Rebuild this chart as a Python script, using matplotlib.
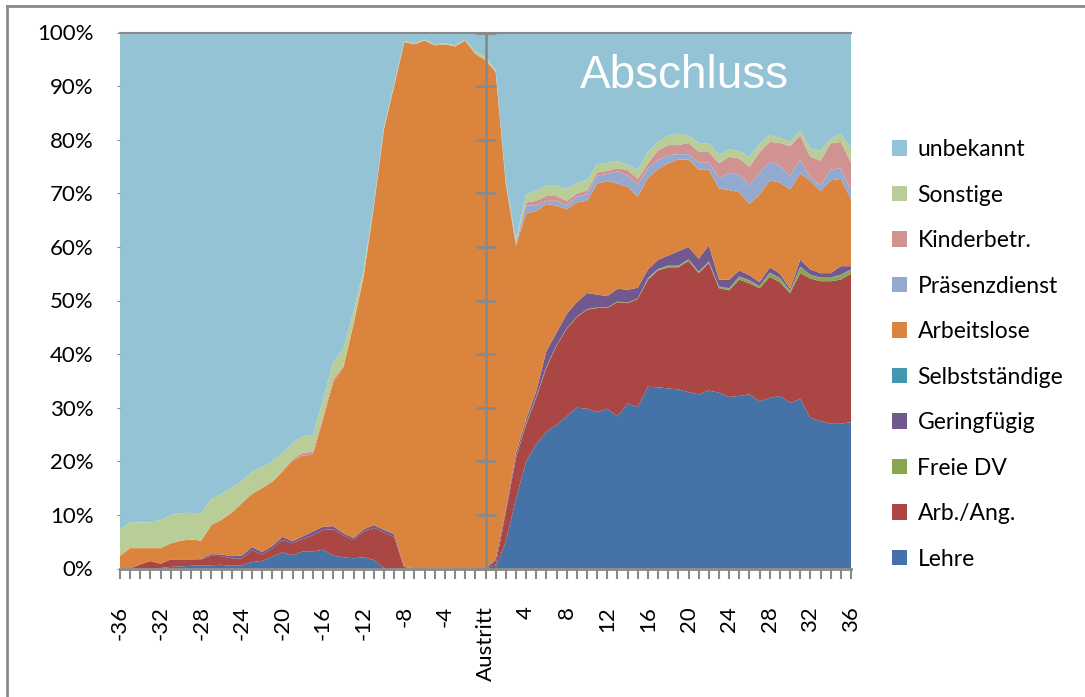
import numpy as np
import matplotlib
matplotlib.use("Agg")
import matplotlib.pyplot as plt
from matplotlib.lines import Line2D

# months relative to leaving (Austritt = 0)
months = list(range(-36, 37))

# shares in % per month (left part: -36..-1, then 0..36)
lehre = [0, 0, 0, 0, 0.1, 0.3, 0.4, 0.5, 0.6, 0.6, 0.7, 0.5, 0.6, 1.2, 1.4, 2.2, 3.0, 2.5,
         3.2, 3.2, 3.5, 2.4, 2.1, 1.9, 2.1, 1.6, 0.1, 0, 0, 0, 0, 0, 0, 0, 0, 0,
         0, 0.1, 5.0, 13.0, 20.0, 23.2, 25.5, 26.8, 28.4, 30.0, 29.8, 29.2, 29.8, 28.4, 30.8,
         30.1, 33.9, 33.8, 33.6, 33.4, 32.9, 32.5, 33.2, 32.8, 32.0, 32.2, 32.5, 31.2, 31.8,
         32.2, 30.9, 31.6, 28.1, 27.5, 27.0, 27.0, 27.3]
arb_ang = [0, 0, 0.8, 1.4, 0.8, 1.4, 1.3, 1.2, 1.1, 1.8, 1.6, 1.4, 1.3, 2.2, 1.2, 1.5, 2.3, 2.2,
           2.3, 3.0, 3.7, 4.9, 4.1, 3.4, 4.8, 6.0, 6.6, 5.9, 0.1, 0, 0, 0, 0, 0, 0, 0,
           0, 0.5, 5.5, 7.6, 6.9, 8.7, 12.0, 14.8, 16.3, 16.9, 18.5, 19.4, 18.8, 21.3, 18.7,
           20.2, 20.0, 21.8, 22.6, 22.8, 24.5, 22.6, 23.8, 19.5, 19.9, 21.7, 20.7, 21.1, 22.6,
           21.2, 20.5, 23.5, 26.0, 26.1, 26.6, 26.9, 27.7]
freie_dv = [0] * 36 + [0, 0, 0, 0.1, 0.2, 0.2, 0.2, 0.1, 0.1, 0.1, 0.1, 0.1, 0.1, 0.1, 0.1,
                       0.1, 0.2, 0.2, 0.2, 0.2, 0.2, 0.2, 0.2, 0.2, 0.3, 0.5, 0.5, 0.3, 0.7,
                       0.7, 0.3, 1.1, 0.6, 0.6, 0.6, 0.8, 0.7]
selbst = [0] * 36 + [0] * 16 + [0.1] * 21
geringf = [0, 0, 0, 0, 0, 0, 0, 0, 0.1, 0.3, 0.3, 0.4, 0.5, 0.6, 0.5, 0.5, 0.6, 0.4,
           0.5, 0.7, 0.6, 0.6, 0.4, 0.4, 0.4, 0.5, 0.5, 0.5, 0.2, 0, 0, 0, 0, 0, 0, 0,
           0, 1.0, 0.5, 0.8, 0.7, 1.0, 2.9, 2.3, 2.7, 2.7, 3.0, 2.4, 2.1, 2.4, 2.4,
           2.0, 1.6, 1.7, 1.9, 2.7, 2.3, 2.4, 3.0, 1.3, 1.6, 1.1, 0.9, 0.7, 1.0,
           0.8, 0.4, 1.3, 1.0, 0.8, 0.8, 1.6, 0.6]
arbeitslos = [2.4, 3.8, 3.0, 2.4, 2.9, 3.0, 3.5, 3.7, 3.4, 5.4, 6.5, 8.1, 9.8, 9.9, 11.9, 12.0,
              12.2, 15.0, 15.1, 14.3, 20.1, 26.8, 30.9, 39.8, 47.2, 59.4, 74.8, 83.6, 97.9,
              97.8, 98.5, 97.6, 97.8, 97.4, 98.5, 96.0,
              94.8, 91.0, 60.7, 38.7, 38.4, 33.6, 27.4, 23.7, 19.5, 18.6, 17.2, 20.7, 21.5,
              19.6, 19.2, 17.0, 17.1, 16.9, 17.2, 17.1, 16.3, 16.6, 14.1, 17.0, 16.7, 14.6,
              13.3, 16.4, 16.2, 17.0, 18.5, 16.1, 16.5, 15.3, 17.3, 16.3, 12.5]
praesenz = [0] * 36 + [0, 0.1, 0.2, 0.3, 1.5, 1.0, 0.6, 0.9, 0.7, 1.1, 1.2, 1.5, 1.3, 2.3,
                       2.1, 2.2, 1.8, 1.7, 1.5, 1.0, 1.0, 1.3, 1.3, 2.0, 3.2, 3.3, 3.5, 4.0,
                       3.5, 3.1, 2.6, 2.5, 0.6, 1.1, 2.0, 2.0, 1.7]
kinder = [0] * 15 + [0.1, 0.2, 0.3, 0.5, 0.6, 0.5, 0.6, 0.3, 0.3, 0.2, 0.1] + [0] * 10 + \
         [0, 0.1, 0.2, 0.5, 0.6, 0.9, 0.9, 0.9, 0.9, 0.6, 0.7, 0.6, 0.6, 0.6, 1.0, 1.1,
          0.9, 1.8, 1.9, 1.7, 2.1, 2.0, 2.0, 2.7, 3.0, 3.0, 3.4, 3.9, 3.7, 4.3, 5.5, 4.6,
          3.9, 4.6, 4.9, 4.9, 5.1]
sonstige = [4.9, 4.8, 4.8, 4.8, 5.2, 5.3, 5.1, 5.0, 5.1, 4.9, 4.8, 4.7, 4.2, 4.1, 3.9, 3.7,
            3.3, 3.0, 3.1, 3.1, 3.1, 3.1, 3.2, 2.2, 1.0, 0.4, 0.4, 0.4, 0.2, 0.2, 0.2, 0.2,
            0.2, 0.2, 0.2, 0.5,
            0.7, 0.2, 0.2, 0.4, 1.5, 1.9, 1.9, 1.9, 2.2, 1.9, 2.0, 1.5, 1.5, 1.3, 1.0, 1.7,
            2.1, 1.6, 1.8, 2.1, 1.4, 1.7, 1.6, 1.5, 1.4, 1.4, 1.9, 1.6, 1.2, 1.0, 0.8, 0.9,
            1.6, 1.8, 0.9, 1.5, 2.7]
unbekannt = [92.7, 91.4, 91.4, 91.4, 91.0, 90.0, 89.7, 89.6, 89.7, 87.0, 86.1, 84.9, 83.6,
             82.0, 81.1, 80.0, 78.4, 76.6, 75.3, 75.1, 68.5, 61.6, 59.0, 52.0, 44.3, 32.0,
             17.6, 9.6, 1.6, 2.0, 1.3, 2.2, 2.0, 2.4, 1.3, 3.5,
             4.5, 7.0, 27.7, 38.6, 30.2, 29.5, 28.6, 28.6, 29.2, 28.1, 27.5, 24.6, 24.3, 24.0,
             24.7, 25.6, 22.3, 20.4, 19.2, 18.9, 19.2, 20.6, 20.7, 22.9, 21.8, 22.1, 23.2,
             20.7, 19.2, 19.6, 20.4, 18.3, 21.6, 22.1, 19.8, 18.9, 21.6]

# stacking order bottom to top
series = [lehre, arb_ang, freie_dv, selbst, geringf, arbeitslos, praesenz, kinder, sonstige, unbekannt]
stack_labels = ["Lehre", "Arb./Ang.", "Freie DV", "Selbstständige", "Geringfügig",
                "Arbeitslose", "Präsenzdienst", "Kinderbetr.", "Sonstige", "unbekannt"]
stack_colors = ["#4572A7", "#AA4643", "#89A54E", "#4198AF", "#71588F",
                "#DB843D", "#93A9CF", "#D19392", "#B9CD96", "#93C3D4"]
legend_order = ["unbekannt", "Sonstige", "Kinderbetr.", "Präsenzdienst", "Arbeitslose",
                "Selbstständige", "Geringfügig", "Freie DV", "Arb./Ang.", "Lehre"]

data = np.array(series, dtype=float)
data = data / data.sum(axis=0) * 100  # 100% stacked like Excel

x = np.array(months)
tick_pos = list(range(-36, 37, 4))
tick_labels = ["Austritt" if t == 0 else str(t) for t in tick_pos]

plt.rcParams['font.family'] = ['Lato', 'DejaVu Sans']
GRAY = "#898989"

fig = plt.figure(figsize=(10.85, 6.97), dpi=100)
ax = fig.add_axes([120 / 1085, 1 - 568.5 / 697, 731 / 1085, 536 / 697])

polys = ax.stackplot(x, data, colors=stack_colors, labels=stack_labels, linewidth=0)

ax.set_xlim(-36, 36)
ax.set_ylim(0, 100)

ax.set_yticks(range(0, 101, 10))
ax.set_yticklabels([f"{v}%" for v in range(0, 101, 10)], fontsize=16)
ax.tick_params(axis='y', length=2, color=GRAY, pad=17)

ax.set_xticks(tick_pos)
ax.set_xticklabels(tick_labels, rotation=90, fontsize=16)
ax.set_xticks(months, minor=True)
ax.tick_params(axis='x', which='both', length=7, width=1.5, color=GRAY, pad=20)

for side in ['left', 'right']:
    ax.spines[side].set_visible(False)
ax.spines['top'].set_color(GRAY)
ax.spines['top'].set_linewidth(1.5)
ax.spines['bottom'].set_color(GRAY)
ax.spines['bottom'].set_linewidth(2)

# value axis drawn at "Austritt" with crossing tick marks
ax.axvline(0, color=GRAY, lw=2, zorder=5)
ax.plot([0] * 11, list(range(0, 101, 10)), ls='none', marker='_', ms=15, mew=2,
        color=GRAY, zorder=5, clip_on=False)

ax.text(19.6, 89.6, "Abschluss", color="white", fontsize=33,
        family="Liberation Sans", ha="center", va="baseline")

handles = dict(zip(stack_labels, polys))
leg = ax.legend([handles[l] for l in legend_order], legend_order,
                loc='upper left', bbox_to_anchor=(892 / 1085, 1 - 139 / 697),
                bbox_transform=fig.transFigure, frameon=False, fontsize=16.5,
                handlelength=0.66, handleheight=0.66, handletextpad=0.45,
                labelspacing=1.07, borderpad=0, borderaxespad=0)

# chart area border (left and top edge visible in the original)
fig.add_artist(Line2D([7 / 1085, 7 / 1085], [0, 1 - 6 / 697], color=GRAY, lw=2))
fig.add_artist(Line2D([7 / 1085, 1], [1 - 6 / 697, 1 - 6 / 697], color=GRAY, lw=2))

fig.savefig("out.png", dpi=100)
